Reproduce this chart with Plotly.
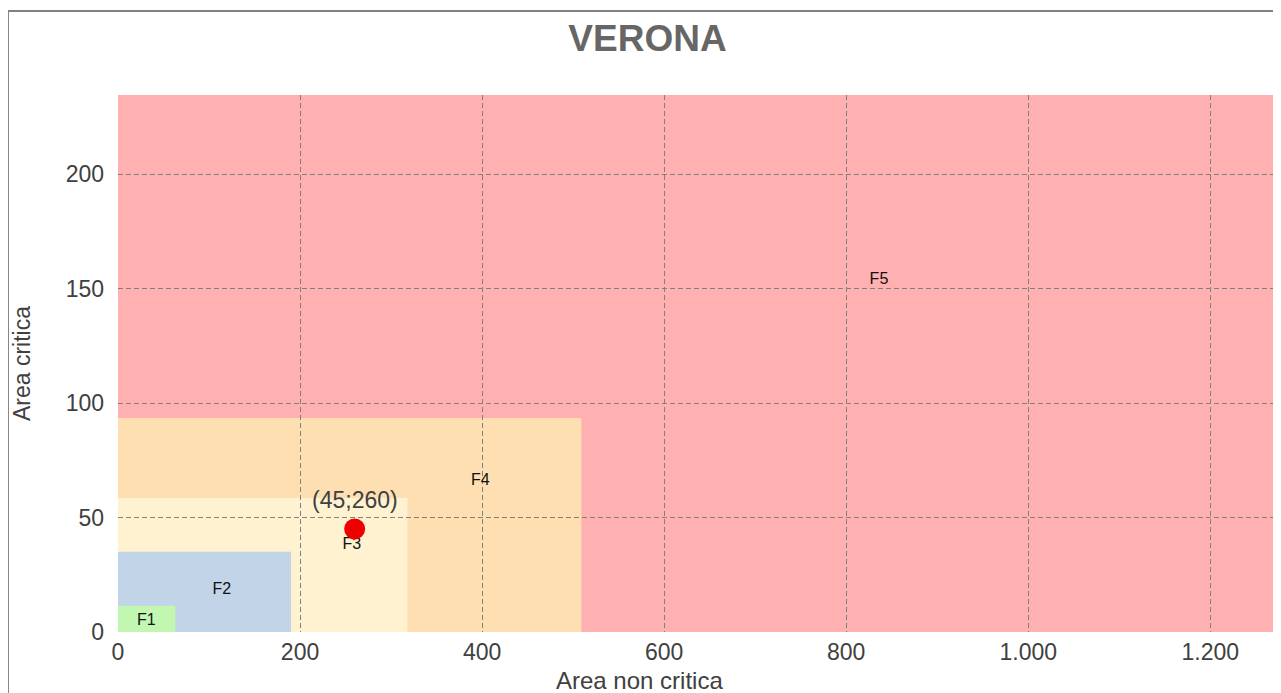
import plotly.graph_objects as go

# ---- data ----
zones = ["F5", "F4", "F3", "F2", "F1"]
zone_x_max = [1270, 509, 318, 190, 63]
zone_y_max = [234.5, 93.5, 58.5, 35, 11.5]
zone_colors = ["#FFB0B1", "#FDDFB1", "#FEF2D1", "#C1D4E8", "#C2F7B1"]
label_x = [836, 398, 257, 114, 31]
label_y = [153.7, 66, 38, 18.3, 4.8]

point_x = [260]
point_y = [45]

x_ticks = [0, 200, 400, 600, 800, 1000, 1200]
y_ticks = [0, 50, 100, 150, 200]

title_text = "VERONA"
x_title = "Area non critica"
y_title = "Area critica"

FONT = "Liberation Sans, Arial, sans-serif"

# page has an 8px body offset; figure sized to fit the window
W, H = 1273, 685

fig = go.Figure()

shapes = []
for name, xm, ym, col in zip(zones, zone_x_max, zone_y_max, zone_colors):
    shapes.append(dict(type="rect", xref="x", yref="y", x0=0, y0=0, x1=xm, y1=ym,
                       fillcolor=col, line=dict(width=0), layer="below"))

# outer chart border (left/top edges visible, others off-screen)
shapes.append(dict(type="rect", xref="paper", yref="paper",
                   x0=-0.0952, y0=-0.4, x1=1.3, y1=1.1564,
                   line=dict(color="#808080", width=2), fillcolor="rgba(0,0,0,0)", layer="above"))

# zone labels
fig.add_trace(go.Scatter(x=label_x, y=label_y, mode="text", text=zones,
                         textfont=dict(family="Liberation Sans Narrow, Arial Narrow, sans-serif",
                                       size=16, color="#111111"),
                         hoverinfo="skip", showlegend=False))

# point
fig.add_trace(go.Scatter(x=point_x, y=point_y, mode="markers",
                         marker=dict(size=21, color="#EE0000", line=dict(width=0)),
                         showlegend=False))

annotations = []
for px, py in zip(point_x, point_y):
    annotations.append(dict(x=px, y=py, xref="x", yref="y", text=f"({py};{px})",
                            showarrow=False, yshift=29,
                            font=dict(family=FONT, size=23, color="#404040")))

# x-axis title, centred on the whole chart as in the reference
annotations.append(dict(x=0.4507, y=-0.0894, xref="paper", yref="paper", text=x_title,
                        showarrow=False, xanchor="center", yanchor="middle",
                        font=dict(family=FONT, size=24, color="#404040")))

grid = dict(showgrid=True, gridcolor="#808080", gridwidth=1, griddash="5px,3px",
            zeroline=False, showline=False, ticks="", automargin=False,
            tickfont=dict(family=FONT, size=23, color="#404040"))

fig.update_layout(
    width=W, height=H,
    margin=dict(l=110, r=7, t=87, b=61),
    paper_bgcolor="white", plot_bgcolor="white",
    separators=",.",
    shapes=shapes,
    annotations=annotations,
    title=dict(text=f"<b>{title_text}</b>", x=639.5 / W, xanchor="center", xref="container",
               y=1 - 30 / H, yanchor="middle", yref="container",
               font=dict(family=FONT, size=37, color="#666666")),
    xaxis=dict(range=[0, 1270], tickvals=x_ticks, tickformat=",d", ticklabelstandoff=4,
               **grid),
    yaxis=dict(range=[0, 234.5], tickvals=y_ticks, ticklabelstandoff=13,
               title=dict(text=y_title, standoff=28,
                          font=dict(family=FONT, size=23, color="#404040")),
               **grid),
)

fig.write_html("out.html")
